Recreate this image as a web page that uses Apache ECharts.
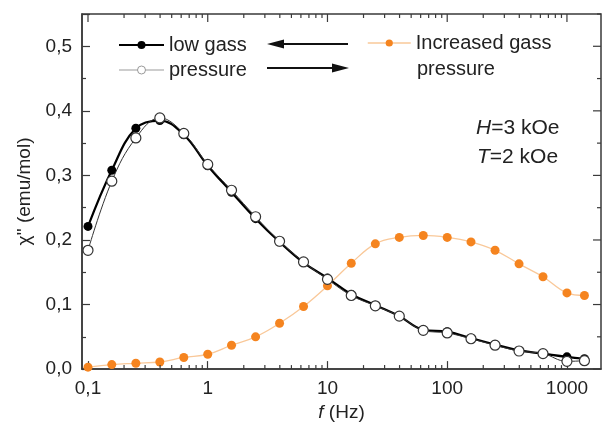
<!DOCTYPE html>
<html>
<head>
<meta charset="utf-8">
<script src="https://cdn.jsdelivr.net/npm/echarts@6/dist/echarts.min.js"></script>
<style>
  html, body { margin: 0; padding: 0; background: #fff; }
  #chart { width: 603px; height: 427px; }
</style>
</head>
<body>
<div id="chart"></div>
<script>
// Frequencies of the ac susceptibility sweep (Hz)
var freq = [0.1, 0.158, 0.251, 0.398, 0.631, 1, 1.58, 2.51, 3.98, 6.31, 10,
            15.8, 25.1, 39.8, 63.1, 100, 158, 251, 398, 631, 1000, 1400];

// chi'' (emu/mol), low gas pressure, first run (filled symbols)
var lowGassA = [0.221, 0.308, 0.373, 0.385, 0.363, 0.315, 0.274, 0.233, 0.197, 0.165, 0.141,
                0.116, 0.099, 0.082, 0.061, 0.058, 0.048, 0.038, 0.029, 0.024, 0.019, 0.016];

// chi'' (emu/mol), low gas pressure, second run (open symbols)
var lowGassB = [0.184, 0.291, 0.358, 0.389, 0.365, 0.317, 0.277, 0.236, 0.198, 0.166, 0.139,
                0.114, 0.098, 0.082, 0.060, 0.056, 0.047, 0.037, 0.028, 0.024, 0.012, 0.013];

// chi'' (emu/mol), increased gas pressure
var highGass = [0.003, 0.007, 0.009, 0.011, 0.018, 0.023, 0.037, 0.050, 0.071, 0.097, 0.129,
                0.164, 0.194, 0.204, 0.207, 0.204, 0.197, 0.184, 0.163, 0.143, 0.118, 0.114];

// y-axis tick labels (decimal comma), and frequency decades
var yTicks = [0, 0.1, 0.2, 0.3, 0.4, 0.5];
var xDecades = [0.1, 1, 10, 100, 1000];
var minorMultipliers = [2, 3, 4, 5, 6, 7, 8, 9];

var FONT = 'Liberation Sans, Arial, sans-serif';
var AXIS_COLOR = '#3a3a3a';
var X_MIN = 0.0891, X_MAX = 1925;
var Y_MIN = 0, Y_MAX = 0.55;

// Tick marks for the frame: [axis, value, isMajor]
var frameTicks = [];
xDecades.forEach(function (d) {
  frameTicks.push(['x', d, 1]);
  if (d < 1000) {
    minorMultipliers.forEach(function (m) { frameTicks.push(['x', +(d * m).toPrecision(3), 0]); });
  }
});
yTicks.forEach(function (v) {
  frameTicks.push(['y', v, 1]);
  frameTicks.push(['y', +(v + 0.05).toFixed(2), 0]);
});

function pairs(xs, ys) { return xs.map(function (x, i) { return [x, ys[i]]; }); }

var chart = echarts.init(document.getElementById('chart'), null, { renderer: 'canvas' });

var option = {
  backgroundColor: '#fff',
  animation: false,
  textStyle: { fontFamily: FONT },
  grid: { left: 82, right: 2, top: 14, bottom: 55, containLabel: false,
          show: true, borderColor: AXIS_COLOR, borderWidth: 1.5, backgroundColor: 'transparent' },
  xAxis: {
    type: 'log', logBase: 10, min: X_MIN, max: X_MAX, position: 'bottom',
    name: '{i|f} (Hz)', nameLocation: 'middle', nameGap: 31,
    nameTextStyle: { fontSize: 19, color: '#222', fontFamily: FONT,
      rich: { i: { fontStyle: 'italic', fontSize: 19, color: '#222', fontFamily: FONT } } },
    axisLine: { show: true, lineStyle: { color: AXIS_COLOR, width: 1.5 } },
    axisTick: { show: true, inside: true, length: 8, lineStyle: { color: AXIS_COLOR, width: 1.2 } },
    axisLabel: { show: true, margin: 10, fontSize: 19, color: '#222', fontFamily: FONT,
      showMinLabel: false, showMaxLabel: false,
      formatter: function (v) {
        return v < 1 ? String(+v.toFixed(1)).replace('.', ',') : String(Math.round(v));
      } },
    splitLine: { show: false }
  },
  yAxis: {
    type: 'value', min: Y_MIN, max: Y_MAX, interval: 0.1, position: 'left',
    name: 'χ\'\' (emu/mol)', nameLocation: 'middle', nameGap: 46, nameRotate: 90,
    nameTextStyle: { fontSize: 19, color: '#222', fontFamily: FONT },
    axisLine: { show: true, lineStyle: { color: AXIS_COLOR, width: 1.5 } },
    axisTick: { show: true, inside: true, length: 8, lineStyle: { color: AXIS_COLOR, width: 1.2 } },
    minorTick: { show: true, splitNumber: 2, length: 4, lineStyle: { color: AXIS_COLOR, width: 1.2 } },
    axisLabel: { show: true, margin: 10, fontSize: 19, color: '#222', fontFamily: FONT,
      showMaxLabel: false,
      formatter: function (v) {
        return yTicks.indexOf(+v.toFixed(2)) >= 0 ? v.toFixed(1).replace('.', ',') : '';
      } },
    splitLine: { show: false }, minorSplitLine: { show: false }
  },
  legend: [{
    orient: 'vertical', left: 118, top: 35, itemWidth: 45, itemHeight: 10, itemGap: 5,
    padding: 0,
    textStyle: { fontSize: 20, color: '#222', fontFamily: FONT },
    data: [
      { name: 'low gass' },
      { name: 'pressure', itemStyle: { color: '#fff', borderColor: '#999', borderWidth: 1 },
        lineStyle: { color: '#bdbdbd', width: 1.5 } }
    ]
  }, {
    orient: 'vertical', left: 367, top: 33, itemWidth: 43, itemHeight: 9, padding: 0,
    textStyle: { fontSize: 20, color: '#222', fontFamily: FONT },
    data: [{ name: 'Increased gass', lineStyle: { color: '#f9c899', width: 1.5 } }]
  }],
  graphic: [
    { type: 'text', left: 417, top: 59,
      style: { text: 'pressure', fontSize: 20, fill: '#222', fontFamily: FONT } },
    // direction arrows between the legend entries
    { type: 'line', shape: { x1: 278, y1: 44, x2: 348, y2: 44 }, style: { stroke: '#111', lineWidth: 1.8 } },
    { type: 'polygon', shape: { points: [[267, 44], [284, 39.5], [284, 48.5]] }, style: { fill: '#111' } },
    { type: 'line', shape: { x1: 267, y1: 68, x2: 338, y2: 68 }, style: { stroke: '#111', lineWidth: 1.8 } },
    { type: 'polygon', shape: { points: [[349, 68], [332, 63.5], [332, 72.5]] }, style: { fill: '#111' } },
    // measurement conditions
    { type: 'text', left: 476, top: 118,
      style: { text: '{i|H}=3 kOe', fontSize: 21, fill: '#222', fontFamily: FONT,
        rich: { i: { fontStyle: 'italic', fontSize: 21, fill: '#222', fontFamily: FONT } } } },
    { type: 'text', left: 477, top: 147,
      style: { text: '{i|T}=2 kOe', fontSize: 21, fill: '#222', fontFamily: FONT,
        rich: { i: { fontStyle: 'italic', fontSize: 21, fill: '#222', fontFamily: FONT } } } }
  ],
  series: [
    {
      name: 'Increased gass', type: 'line', smooth: 0.4,
      data: pairs(freq, highGass),
      symbol: 'circle', symbolSize: 9,
      itemStyle: { color: '#f5841f' },
      lineStyle: { color: '#f9c899', width: 1.3 },
      z: 2
    },
    {
      name: 'low gass', type: 'line', smooth: 0.4,
      data: pairs(freq, lowGassA),
      symbol: 'circle', symbolSize: 9,
      itemStyle: { color: '#000' },
      lineStyle: { color: '#000', width: 2.2 },
      z: 3
    },
    {
      name: 'pressure', type: 'line', smooth: 0.4,
      data: pairs(freq, lowGassB),
      symbol: 'circle', symbolSize: 10, showAllSymbol: true,
      itemStyle: { color: '#fff', borderColor: '#333', borderWidth: 1.2 },
      lineStyle: { color: '#333', width: 1 },
      z: 4
    },
    {
      // log minor ticks on the bottom edge; mirrored ticks on the top and right edges
      type: 'custom', silent: true, clip: false, z: 5,
      data: frameTicks.map(function (t, i) { return [i, 0]; }),
      renderItem: function (params, api) {
        var t = frameTicks[params.dataIndex];
        var len = t[2] ? 8 : 4;
        var st = { stroke: AXIS_COLOR, lineWidth: 1.2 };
        var kids = [];
        if (t[0] === 'x') {
          var b = api.coord([t[1], Y_MIN]);
          var top = api.coord([t[1], Y_MAX]);
          if (!t[2]) {
            kids.push({ type: 'line', shape: { x1: b[0], y1: b[1], x2: b[0], y2: b[1] - len }, style: st });
          }
          kids.push({ type: 'line', shape: { x1: top[0], y1: top[1], x2: top[0], y2: top[1] + len }, style: st });
        } else {
          var r = api.coord([X_MAX, t[1]]);
          kids.push({ type: 'line', shape: { x1: r[0], y1: r[1], x2: r[0] - len, y2: r[1] }, style: st });
        }
        return { type: 'group', children: kids };
      }
    }
  ]
};

chart.setOption(option);
</script>
</body>
</html>
